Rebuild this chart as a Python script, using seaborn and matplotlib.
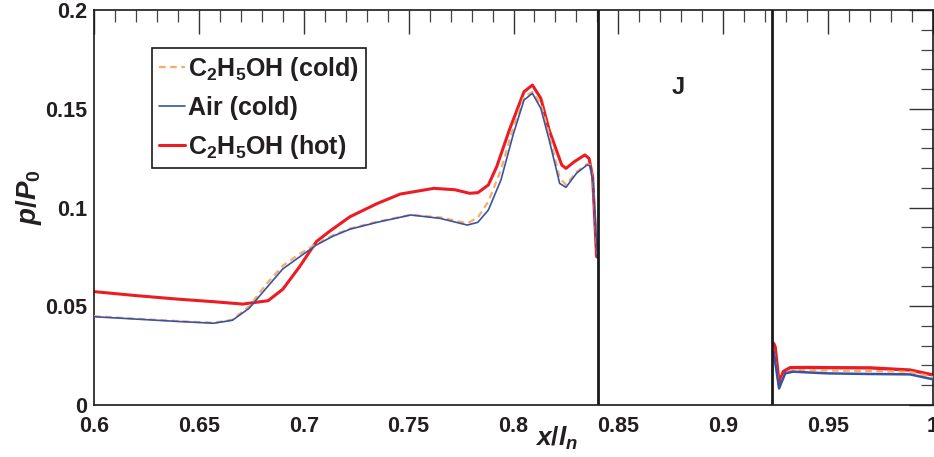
import pandas as pd
import matplotlib
matplotlib.use("Agg")
import matplotlib.pyplot as plt
from matplotlib.ticker import MultipleLocator
from matplotlib.lines import Line2D
import seaborn as sns

# Valores (x/l_n, p/P_0)
air_x = [0.600, 0.620, 0.640, 0.657, 0.666, 0.674, 0.682, 0.690, 0.698, 0.706,
         0.714, 0.722, 0.735, 0.751, 0.765, 0.778, 0.783, 0.788, 0.794, 0.800,
         0.805, 0.809, 0.813, 0.817, 0.822, 0.825, 0.830, 0.835, 0.8365, 0.838, 0.840]
air_y = [0.0447, 0.0435, 0.0423, 0.0414, 0.0429, 0.0490, 0.0590, 0.0689, 0.0750, 0.0810,
         0.0855, 0.0890, 0.0925, 0.0962, 0.0945, 0.0911, 0.0925, 0.0987, 0.1139, 0.1375,
         0.1544, 0.1578, 0.1502, 0.1342, 0.1122, 0.1102, 0.1173, 0.1215, 0.1212, 0.1122, 0.0743]
eth_cold_y = [0.0450, 0.0437, 0.0425, 0.0416, 0.0432, 0.0500, 0.0610, 0.0705, 0.0765, 0.0815,
              0.0860, 0.0893, 0.0928, 0.0963, 0.0950, 0.0920, 0.0950, 0.1030, 0.1190, 0.1410,
              0.1560, 0.1585, 0.1525, 0.1370, 0.1150, 0.1115, 0.1180, 0.1220, 0.1215, 0.1125, 0.0745]
hot_x = [0.600, 0.620, 0.640, 0.657, 0.671, 0.683, 0.690, 0.698, 0.706, 0.712,
         0.722, 0.735, 0.746, 0.762, 0.772, 0.779, 0.783, 0.788, 0.792, 0.798,
         0.805, 0.809, 0.813, 0.817, 0.823, 0.825, 0.829, 0.834, 0.836, 0.8377, 0.8396]
hot_y = [0.0574, 0.0554, 0.0536, 0.0523, 0.0511, 0.0528, 0.0586, 0.0700, 0.0827, 0.0877,
         0.0953, 0.1020, 0.1068, 0.1097, 0.1090, 0.1072, 0.1075, 0.1114, 0.1207, 0.1392,
         0.1586, 0.1620, 0.1553, 0.1392, 0.1215, 0.1198, 0.1232, 0.1266, 0.1249, 0.1157, 0.0751]

# depois do bloco J
air_x2 = [0.924, 0.9266, 0.9295, 0.9334, 0.940, 0.950, 0.970, 0.989, 1.000]
air_y2 = [0.0270, 0.0084, 0.0160, 0.0169, 0.0165, 0.0160, 0.0157, 0.0155, 0.0130]
eth_cold_y2 = [0.0275, 0.0090, 0.0165, 0.0177, 0.0176, 0.0175, 0.0172, 0.0168, 0.0142]
hot_x2 = [0.924, 0.9247, 0.9266, 0.9286, 0.9318, 0.940, 0.950, 0.970, 0.989, 1.000]
hot_y2 = [0.0312, 0.0295, 0.0110, 0.0169, 0.0189, 0.0190, 0.0189, 0.0188, 0.0177, 0.0152]

wall_x = [0.8403, 0.9232]
x_ticks = [0.6, 0.65, 0.7, 0.75, 0.8, 0.85, 0.9, 0.95, 1.0]
x_labels = ["0.6", "0.65", "0.7", "0.75", "0.8", "0.85", "0.9", "0.95", "1"]
y_ticks = [0, 0.05, 0.1, 0.15, 0.2]
y_labels = ["0", "0.05", "0.1", "0.15", "0.2"]

sns.set_style("white")
plt.rcParams['font.family'] = ['Liberation Sans', 'DejaVu Sans']
plt.rcParams['font.weight'] = 'bold'
plt.rcParams['mathtext.fontset'] = 'custom'
plt.rcParams['mathtext.rm'] = 'Liberation Sans:bold'
plt.rcParams['mathtext.it'] = 'Liberation Sans:italic:bold'
plt.rcParams['mathtext.bf'] = 'Liberation Sans:bold'

red = '#ec1c24'
blue = '#3853a4'
orange = '#f9ac66'
ink = '#231f20'

fig = plt.figure(figsize=(9.34, 4.57), dpi=100)
ax = fig.add_axes([0.1006, 0.1138, 0.8984, 0.8643])

segs = [
    (air_x, eth_cold_y, orange, 1.6, (0, (3, 2)), 3),
    (air_x2, eth_cold_y2, orange, 1.6, (0, (3, 2)), 3),
    (air_x, air_y, blue, 1.2, '-', 4),
    (air_x2, air_y2, blue, 1.8, '-', 4),
    (hot_x, hot_y, red, 2.2, '-', 2),
    (hot_x2, hot_y2, red, 2.4, '-', 2),
]
for xs, ys, c, lw, ls, z in segs:
    df = pd.DataFrame({'x': xs, 'y': ys})
    sns.lineplot(data=df, x='x', y='y', color=c, linewidth=lw, linestyle=ls,
                 sort=False, estimator=None, ax=ax, zorder=z)

for wx in wall_x:
    ax.axvline(wx, color='#1a1a1a', linewidth=2.0, zorder=5)

ax.text(0.8785, 0.161, 'J', fontsize=17, fontweight='bold', color=ink,
        ha='center', va='center')

ax.set_xlim(0.6, 1.0)
ax.set_ylim(0, 0.2)
ax.set_xticks(x_ticks)
ax.set_xticklabels(x_labels)
ax.set_yticks(y_ticks)
ax.set_yticklabels(y_labels)
ax.xaxis.set_minor_locator(MultipleLocator(0.01))
ax.yaxis.set_minor_locator(MultipleLocator(0.01))
ax.tick_params(which='major', direction='in', length=17, width=1.0, color='#333333',
               top=True, right=True, labelsize=15.5, labelcolor=ink)
ax.tick_params(axis='x', which='major', pad=8)
ax.tick_params(axis='y', which='major', pad=5)
ax.tick_params(which='minor', direction='in', length=8.5, width=0.9, color='#444444',
               top=True, right=True)
for lab in ax.get_xticklabels() + ax.get_yticklabels():
    lab.set_fontweight('bold')
for sp in ax.spines.values():
    sp.set_color('#1a1a1a')
    sp.set_linewidth(1.2)

ax.set_xlabel('')
ax.set_ylabel('')
fig.text(557 / 934, 1 - 446 / 457, r'$\mathit{x/l_n}$', fontsize=19, color=ink,
         ha='center', va='baseline')
fig.text(29 / 934, 1 - 197 / 457, r'$\mathit{p/P_0}$', fontsize=20, color=ink,
         ha='center', va='center', rotation=90)

handles = [
    Line2D([], [], color=orange, lw=1.6, ls=(0, (3, 2))),
    Line2D([], [], color=blue, lw=1.2),
    Line2D([], [], color=red, lw=2.2),
]
names = [r'C$_2$H$_5$OH (cold)', 'Air (cold)', r'C$_2$H$_5$OH (hot)']
leg = ax.legend(handles, names, loc='upper left', bbox_to_anchor=(0.069, 0.904),
                fontsize=18, frameon=True, fancybox=False, framealpha=1,
                handlelength=1.05, handletextpad=0.12, borderpad=0.28,
                labelspacing=0.52, borderaxespad=0)
leg.get_frame().set_edgecolor('#1a1a1a')
leg.get_frame().set_linewidth(1.2)
for t in leg.get_texts():
    t.set_color(ink)
    t.set_fontweight('bold')

plt.savefig('out.png', dpi=100)
